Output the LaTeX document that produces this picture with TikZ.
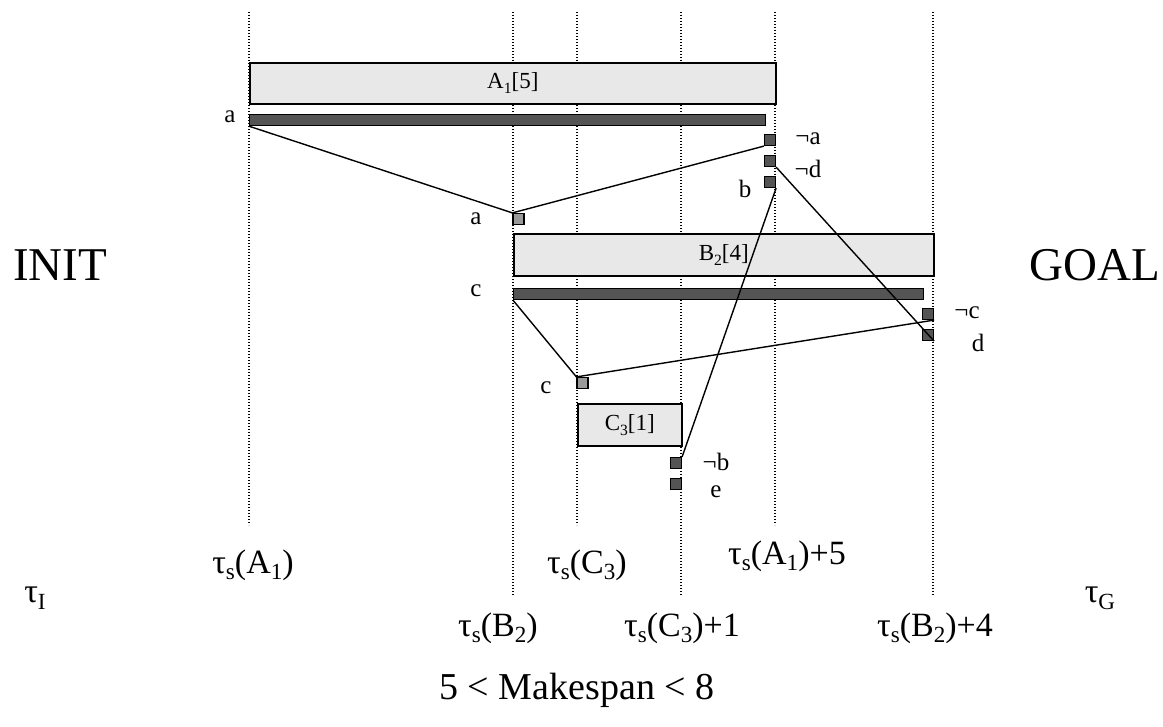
\documentclass[tikz,border=0pt]{standalone}
\usepackage{fontspec}
\setmainfont{Liberation Serif}
\newcommand\lo[1]{\raisebox{-0.2em}{\scalebox{0.68}{#1}}}
\begin{document}
\begin{tikzpicture}[x=1pt,y=-1pt,
  actbox/.style={draw=black,line width=1.6pt,fill=black!9,inner sep=0pt,anchor=north west,font=\fontsize{23}{25}\selectfont},
  bar/.style={draw=black,line width=1.2pt,fill=black!67,inner sep=0pt,anchor=north west,minimum height=11pt},
  sqd/.style={draw=black,line width=1.2pt,fill=black!67,inner sep=0pt,minimum size=11pt},
  sql/.style={draw=black,line width=1.2pt,fill=black!40,inner sep=0pt,minimum size=11pt},
  lab/.style={font=\fontsize{25}{28}\selectfont,inner sep=0pt},
  tlab/.style={font=\fontsize{34}{38}\selectfont,inner sep=0pt},
  big/.style={font=\fontsize{47}{50}\selectfont,inner sep=0pt},
  tl/.style={line width=1.2pt,dash pattern=on 1.4pt off 1.6pt},
  conn/.style={line width=1.4pt}]
\useasboundingbox (0,0) rectangle (1163,727);
% time lines
\coordinate (t1a) at (249,12);   \coordinate (t1b) at (249,525);
\coordinate (t2a) at (513,12);   \coordinate (t2b) at (513,595);
\coordinate (t3a) at (577,12);   \coordinate (t3b) at (577,525);
\coordinate (t4a) at (681,12);   \coordinate (t4b) at (681,595);
\coordinate (t5a) at (775,12);   \coordinate (t5b) at (775,525);
\coordinate (t6a) at (933,12);   \coordinate (t6b) at (933,595);
\foreach \i in {1,...,6} \draw[tl] (t\i a) -- (t\i b);
% actions
\node[actbox,minimum width=526pt,minimum height=41pt] (A1) at (249,62) {A\lo{1}[5]};
\node[bar,minimum width=516pt] (barA) at (249,114) {};
\node[actbox,minimum width=420pt,minimum height=42pt] (B2) at (513,233) {B\lo{2}[4]};
\node[bar,minimum width=410pt] (barC) at (513,288) {};
\node[actbox,minimum width=104pt,minimum height=42pt] (C3) at (577,403) {C\lo{3}[1]};
% squares
\node[sqd] (sna) at (770,140) {};
\node[sqd] (snd) at (770,161) {};
\node[sqd] (sb) at (770,182) {};
\node[sql] (sa) at (518.5,219) {};
\node[sqd] (snc) at (928,314) {};
\node[sqd] (sd) at (928,335) {};
\node[sql] (sc) at (582.5,383) {};
\node[sqd] (snb) at (676,463) {};
\node[sqd] (se) at (676,484) {};
% labels
\node[lab] (la1) at (230,117) {a};
\node[lab] (lna) at (808,139) {¬a};
\node[lab] (lnd) at (808,169) {¬d};
\node[lab] (lb) at (745,189) {b};
\node[lab] (la2) at (476,219) {a};
\node[lab] (lc1) at (476,291) {c};
\node[lab] (lnc) at (967,313) {¬c};
\node[lab] (ld) at (978,343) {d};
\node[lab] (lc2) at (546,388) {c};
\node[lab] (lnb) at (716,462) {¬b};
\node[lab] (le) at (716,492) {e};
% connectors
\draw[conn] (barA.south west) -- (sa.north west) -- (sna.south west);
\draw[conn] (barC.south west) -- (sc.north west) -- (snc.south east);
\draw[conn] (snd.south east) -- (sd.south east);
\draw[conn] (sb.south east) -- (snb.north east);
% big labels
\node[big] (init) at (60,265) {INIT};
\node[big] (goal) at (1095,265) {GOAL};
\node[tlab] (tI) at (35,598) {τ\lo{I}};
\node[tlab] (tG) at (1100,598) {τ\lo{G}};
\node[tlab] (tsA) at (253,565) {τ\lo{s}(A\lo{1})};
\node[tlab] (tsC) at (587,565) {τ\lo{s}(C\lo{3})};
\node[tlab] (tsA5) at (787,556) {τ\lo{s}(A\lo{1})+5};
\node[tlab] (tsB) at (498,628) {τ\lo{s}(B\lo{2})};
\node[tlab] (tsC1) at (682,628) {τ\lo{s}(C\lo{3})+1};
\node[tlab] (tsB4) at (935,628) {τ\lo{s}(B\lo{2})+4};
\node[font=\fontsize{38}{42}\selectfont,inner sep=0pt] (mk) at (577,690) {5 < Makespan < 8};
\end{tikzpicture}
\end{document}
